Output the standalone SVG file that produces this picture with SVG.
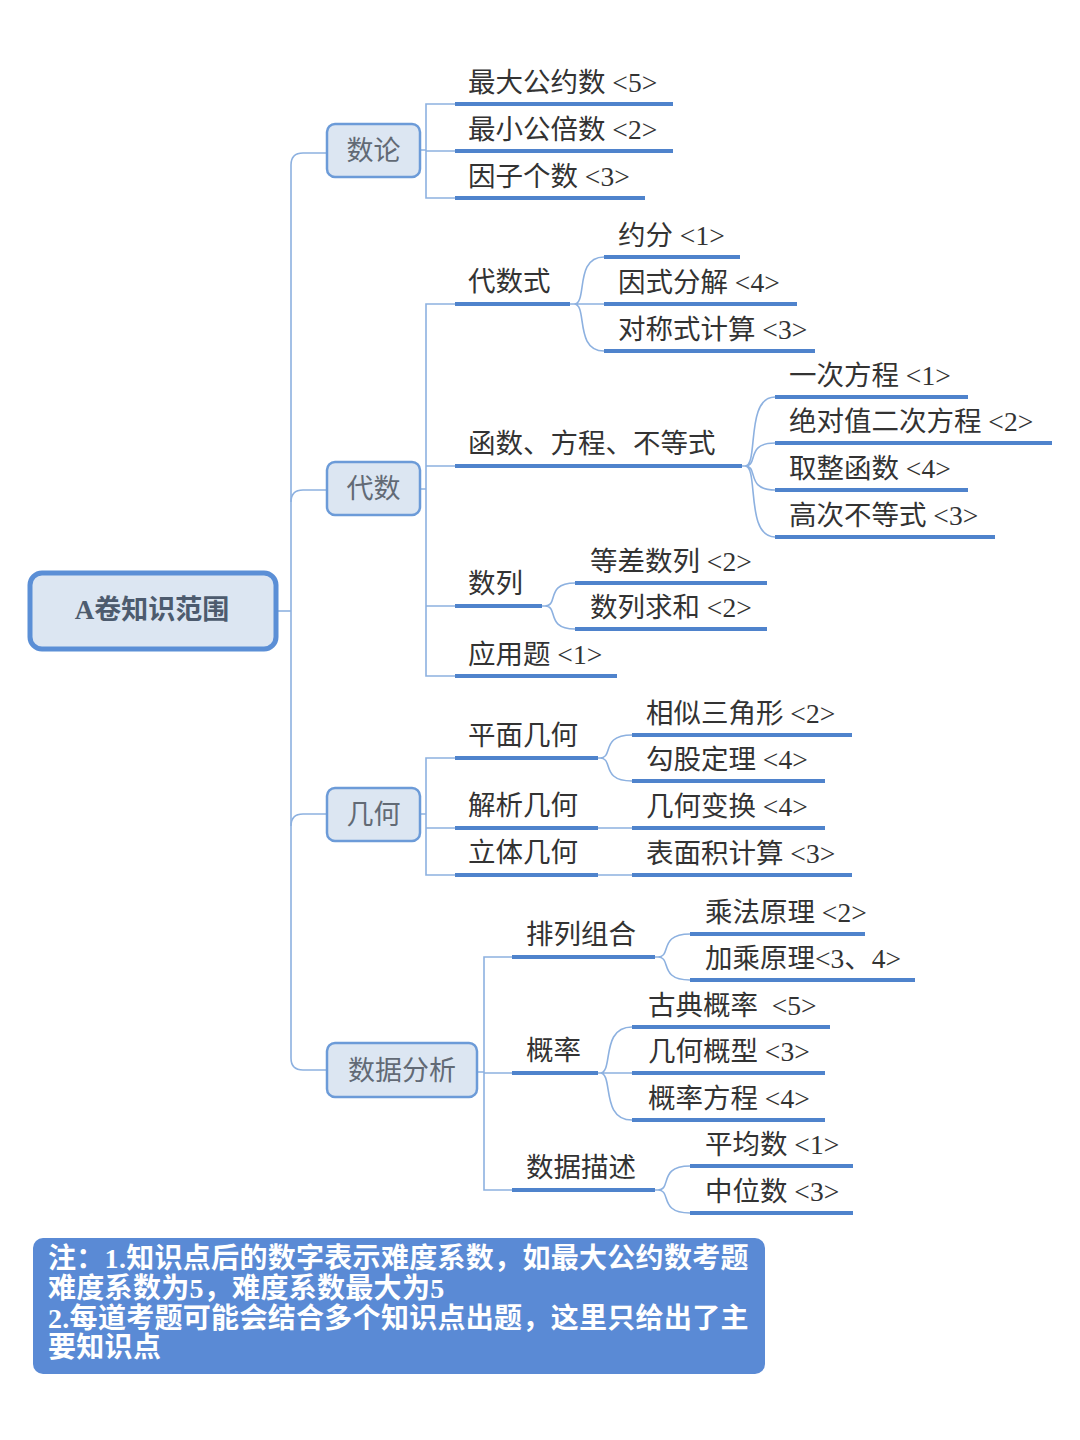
<svg xmlns="http://www.w3.org/2000/svg" width="1080" height="1440" viewBox="0 0 1080 1440">
<style>
.bg{fill:#ffffff}
.thin{fill:none;stroke:#8db1e0;stroke-width:1.6}
.ul{stroke:#4f83cc;stroke-width:4}
.t{font-family:"Liberation Serif","Noto Sans CJK SC",serif;font-size:27.5px;fill:#333333}
.n1 rect{fill:#dce6f2;stroke:#6c9bd8;stroke-width:2.5}
.n1 text{font-family:"Liberation Serif","Noto Sans CJK SC",serif;font-size:27px;fill:#626a75;text-anchor:middle}
.note{font-family:"Liberation Serif","Noto Sans CJK SC",serif;font-size:28px;font-weight:bold;fill:#ffffff;letter-spacing:0.3px}
</style>
<rect class="bg" x="0" y="0" width="1080" height="1440"/>

<g id="connectors">
<path class="thin" d="M277 611 H291"/>
<path class="thin" d="M327 153 H303 Q291 153 291 165 V1058 Q291 1070 303 1070 H327"/>
<path class="thin" d="M291 502 Q291 490 303 490 H327"/>
<path class="thin" d="M291 826 Q291 814 303 814 H327"/>
<path class="thin" d="M420 150 H426 M455 104 H426 V198 H455 M426 151 H455"/>
<path class="thin" d="M420 489 H426 M455 304 H426 V676 H455 M426 466 H455 M426 606 H455"/>
<path class="thin" d="M420 814 H426 M455 758 H426 V875 H455 M426 828 H455"/>
<path class="thin" d="M477 1072 H484 M512 957 H484 V1190 H512 M484 1073 H512"/>
<path class="thin" d="M570 304 H574 C588 304 574 257 604 257 M574 304 H604 M574 304 C588 304 574 351 604 351"/>
<path class="thin" d="M742 466 H745 C759 466 745 397 775 397 M745 466 C759 466 745 443 775 443 M745 466 C759 466 745 490 775 490 M745 466 C759 466 745 537 775 537"/>
<path class="thin" d="M542 606 H545 C559 606 545 583 575 583 M545 606 C559 606 545 629 575 629"/>
<path class="thin" d="M598 758 H600 C614 758 600 735 632 735 M600 758 C614 758 600 781 632 781"/>
<path class="thin" d="M598 828 H632 M598 875 H632"/>
<path class="thin" d="M655 957 H658 C672 957 658 934 690 934 M658 957 C672 957 658 980 690 980"/>
<path class="thin" d="M598 1073 H600 C614 1073 600 1027 632 1027 M600 1073 H632 M600 1073 C614 1073 600 1120 632 1120"/>
<path class="thin" d="M655 1190 H658 C672 1190 658 1166 690 1166 M658 1190 C672 1190 658 1213 690 1213"/>
</g>

<g id="root">
<rect x="30" y="573" width="246" height="76" rx="12" fill="#dce6f2" stroke="#5b8fd6" stroke-width="5"/>
<text x="152" y="619" text-anchor="middle" font-family="Liberation Serif, Noto Sans CJK SC, serif" font-size="27" font-weight="bold" fill="#4d5b6e">A卷知识范围</text>
</g>

<g id="n-shulun" class="n1"><rect x="327" y="124" width="93" height="53" rx="8"/><text x="373.5" y="160">数论</text></g>
<g id="n-daishu" class="n1"><rect x="327" y="462" width="93" height="53" rx="8"/><text x="373.5" y="498">代数</text></g>
<g id="n-jihe" class="n1"><rect x="327" y="788" width="93" height="53" rx="8"/><text x="373.5" y="824">几何</text></g>
<g id="n-shujufenxi" class="n1"><rect x="327" y="1043" width="150" height="54" rx="8"/><text x="402" y="1080">数据分析</text></g>

<g id="l-zdgys"><line class="ul" x1="455" y1="104" x2="673" y2="104"/><text class="t" x="468" y="92">最大公约数 &lt;5&gt;</text></g>
<g id="l-zxgbs"><line class="ul" x1="455" y1="151" x2="673" y2="151"/><text class="t" x="468" y="139">最小公倍数 &lt;2&gt;</text></g>
<g id="l-yzgs"><line class="ul" x1="455" y1="198" x2="645" y2="198"/><text class="t" x="468" y="186">因子个数 &lt;3&gt;</text></g>

<g id="m-daishushi"><line class="ul" x1="455" y1="304" x2="570" y2="304"/><text class="t" x="468" y="291">代数式</text></g>
<g id="l-yuefen"><line class="ul" x1="604" y1="257" x2="740" y2="257"/><text class="t" x="618" y="245">约分 &lt;1&gt;</text></g>
<g id="l-ysfj"><line class="ul" x1="604" y1="304" x2="797" y2="304"/><text class="t" x="618" y="292">因式分解 &lt;4&gt;</text></g>
<g id="l-dcsjs"><line class="ul" x1="604" y1="351" x2="815" y2="351"/><text class="t" x="618" y="339">对称式计算 &lt;3&gt;</text></g>

<g id="m-hanshu"><line class="ul" x1="455" y1="466" x2="742" y2="466"/><text class="t" x="468" y="453">函数、方程、不等式</text></g>
<g id="l-ycfc"><line class="ul" x1="775" y1="397" x2="968" y2="397"/><text class="t" x="789" y="385">一次方程 &lt;1&gt;</text></g>
<g id="l-jdz"><line class="ul" x1="775" y1="443" x2="1052" y2="443"/><text class="t" x="789" y="431">绝对值二次方程 &lt;2&gt;</text></g>
<g id="l-qzhs"><line class="ul" x1="775" y1="490" x2="968" y2="490"/><text class="t" x="789" y="478">取整函数 &lt;4&gt;</text></g>
<g id="l-gcbds"><line class="ul" x1="775" y1="537" x2="995" y2="537"/><text class="t" x="789" y="525">高次不等式 &lt;3&gt;</text></g>

<g id="m-shulie"><line class="ul" x1="455" y1="606" x2="542" y2="606"/><text class="t" x="468" y="593">数列</text></g>
<g id="l-dcsl"><line class="ul" x1="575" y1="583" x2="767" y2="583"/><text class="t" x="590" y="571">等差数列 &lt;2&gt;</text></g>
<g id="l-slqh"><line class="ul" x1="575" y1="629" x2="767" y2="629"/><text class="t" x="590" y="617">数列求和 &lt;2&gt;</text></g>
<g id="l-yyt"><line class="ul" x1="455" y1="676" x2="617" y2="676"/><text class="t" x="468" y="664">应用题 &lt;1&gt;</text></g>

<g id="m-pmjh"><line class="ul" x1="455" y1="758" x2="598" y2="758"/><text class="t" x="468" y="745">平面几何</text></g>
<g id="l-xssjx"><line class="ul" x1="632" y1="735" x2="852" y2="735"/><text class="t" x="646" y="723">相似三角形 &lt;2&gt;</text></g>
<g id="l-ggdl"><line class="ul" x1="632" y1="781" x2="825" y2="781"/><text class="t" x="646" y="769">勾股定理 &lt;4&gt;</text></g>
<g id="m-jxjh"><line class="ul" x1="455" y1="828" x2="598" y2="828"/><text class="t" x="468" y="815">解析几何</text></g>
<g id="l-jhbh"><line class="ul" x1="632" y1="828" x2="825" y2="828"/><text class="t" x="646" y="816">几何变换 &lt;4&gt;</text></g>
<g id="m-ltjh"><line class="ul" x1="455" y1="875" x2="598" y2="875"/><text class="t" x="468" y="862">立体几何</text></g>
<g id="l-bmjjs"><line class="ul" x1="632" y1="875" x2="852" y2="875"/><text class="t" x="646" y="863">表面积计算 &lt;3&gt;</text></g>

<g id="m-pllh"><line class="ul" x1="512" y1="957" x2="655" y2="957"/><text class="t" x="526" y="944">排列组合</text></g>
<g id="l-cfyl"><line class="ul" x1="690" y1="934" x2="865" y2="934"/><text class="t" x="705" y="922">乘法原理 &lt;2&gt;</text></g>
<g id="l-jcyl"><line class="ul" x1="690" y1="980" x2="915" y2="980"/><text class="t" x="705" y="968">加乘原理&lt;3、4&gt;</text></g>
<g id="m-gailv"><line class="ul" x1="512" y1="1073" x2="598" y2="1073"/><text class="t" x="526" y="1060">概率</text></g>
<g id="l-gdgl"><line class="ul" x1="632" y1="1027" x2="830" y2="1027"/><text class="t" x="648" y="1015" xml:space="preserve">古典概率  &lt;5&gt;</text></g>
<g id="l-jhgx"><line class="ul" x1="632" y1="1073" x2="825" y2="1073"/><text class="t" x="648" y="1061">几何概型 &lt;3&gt;</text></g>
<g id="l-glfc"><line class="ul" x1="632" y1="1120" x2="825" y2="1120"/><text class="t" x="648" y="1108">概率方程 &lt;4&gt;</text></g>
<g id="m-sjms"><line class="ul" x1="512" y1="1190" x2="655" y2="1190"/><text class="t" x="526" y="1177">数据描述</text></g>
<g id="l-pjs"><line class="ul" x1="690" y1="1166" x2="853" y2="1166"/><text class="t" x="705" y="1154">平均数 &lt;1&gt;</text></g>
<g id="l-zws"><line class="ul" x1="690" y1="1213" x2="853" y2="1213"/><text class="t" x="705" y="1201">中位数 &lt;3&gt;</text></g>

<g id="note">
<rect x="33" y="1238" width="732" height="136" rx="10" fill="#5a8ad5"/>
<text class="note" x="48" y="1268">注：1.知识点后的数字表示难度系数，如最大公约数考题</text>
<text class="note" x="48" y="1298">难度系数为5，难度系数最大为5</text>
<text class="note" x="48" y="1328">2.每道考题可能会结合多个知识点出题，这里只给出了主</text>
<text class="note" x="48" y="1357">要知识点</text>
</g>
</svg>
